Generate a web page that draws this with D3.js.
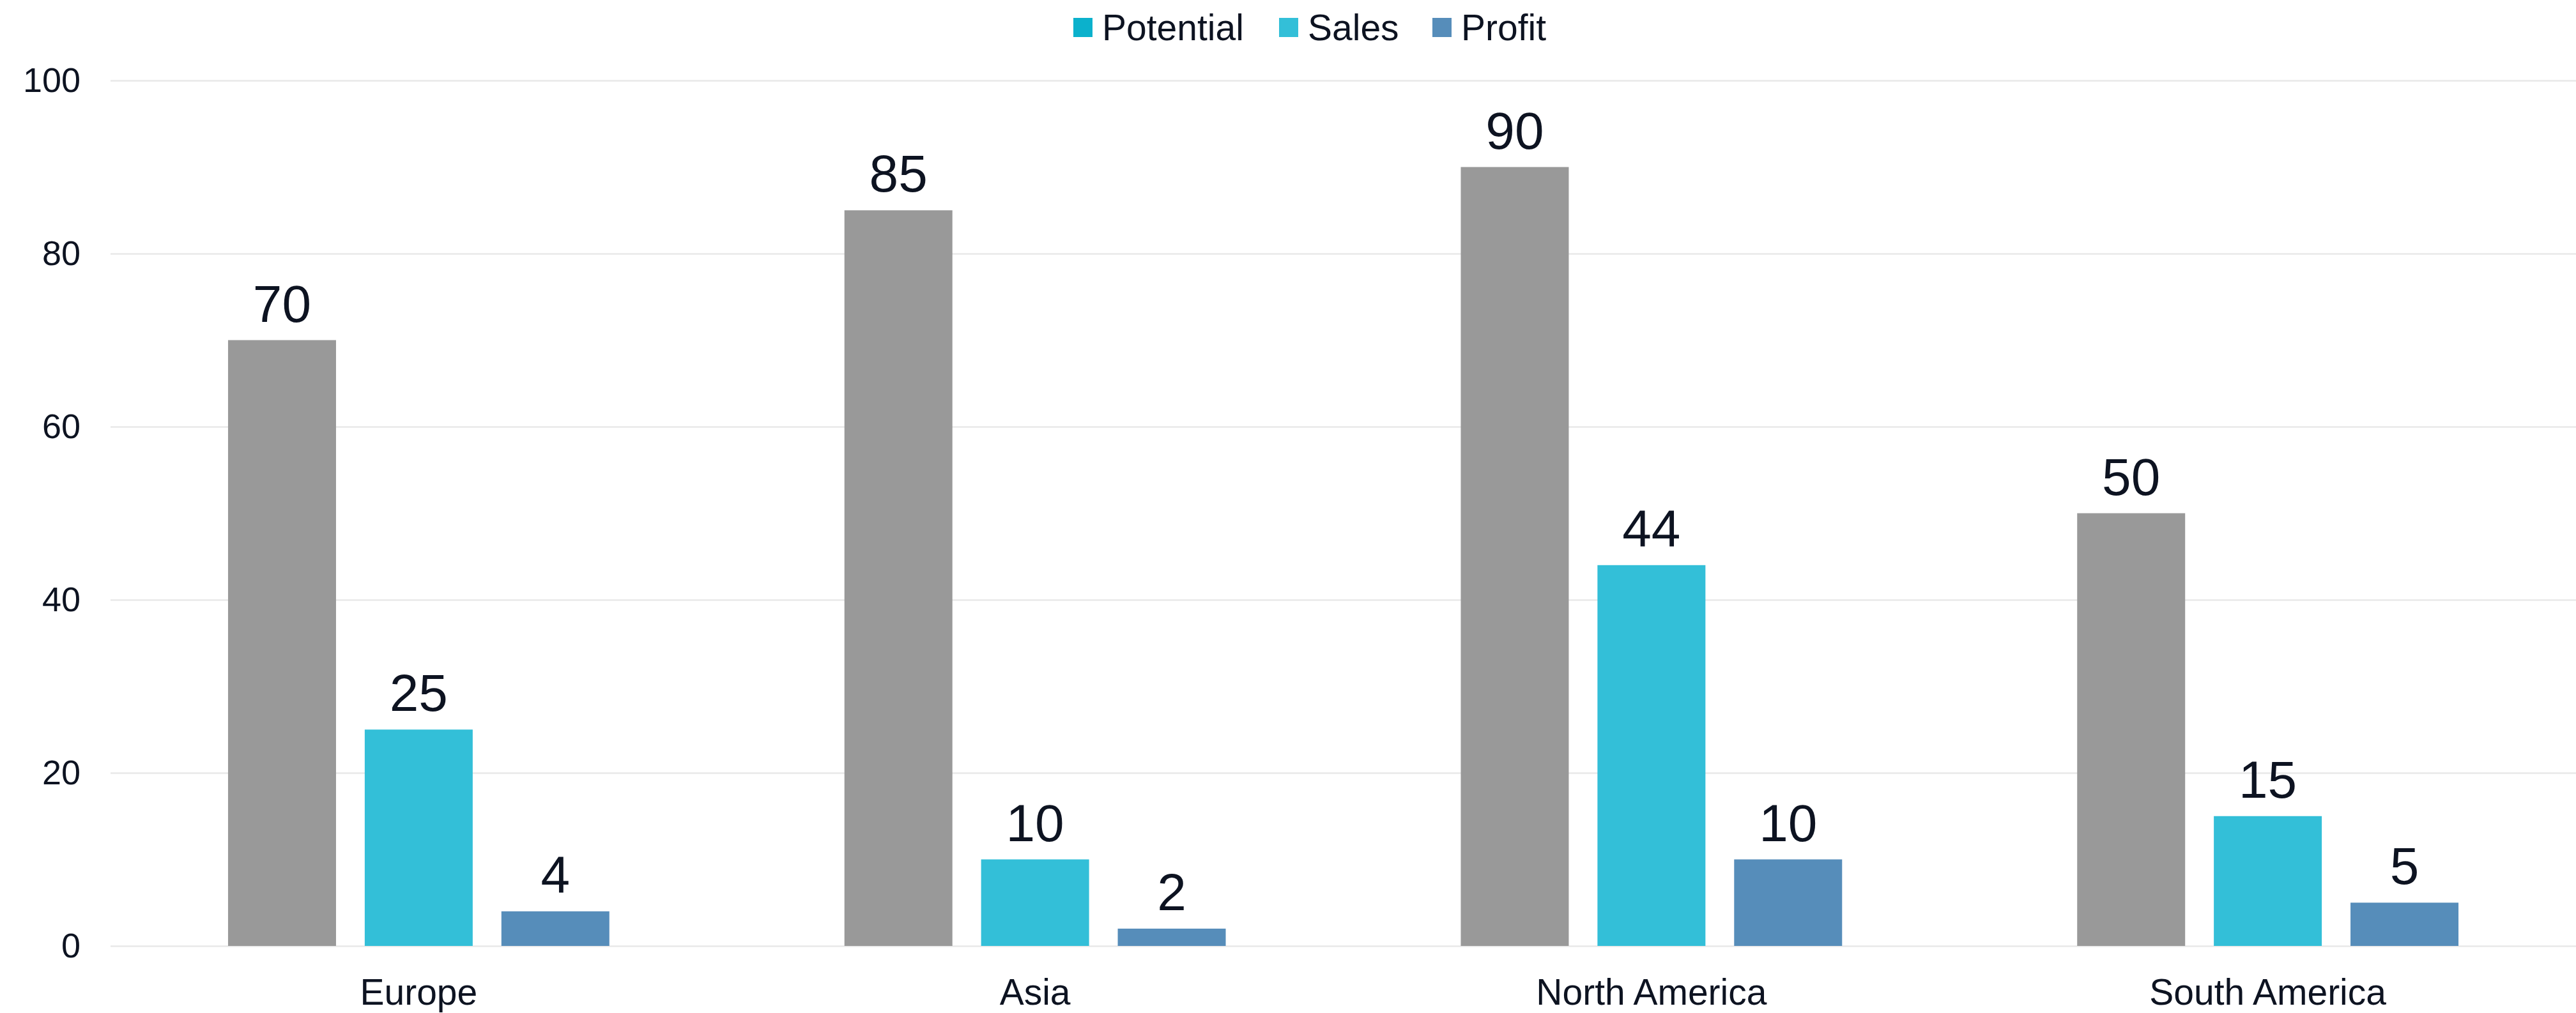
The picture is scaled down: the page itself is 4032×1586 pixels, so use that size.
<!DOCTYPE html>
<html>
<head>
<meta charset="utf-8">
<script src="https://cdn.jsdelivr.net/npm/d3@7"></script>
<style>
  html, body { margin: 0; padding: 0; background: #fff; }
  svg { display: block; font-family: "Liberation Sans", Arial, sans-serif; }
</style>
</head>
<body>
<div id="chart"></div>
<script>
// dados
const regioes = ["Europe", "Asia", "North America", "South America"];
const series = ["Potential", "Sales", "Profit"];
const potential = [70, 85, 90, 50];
const sales = [25, 10, 44, 15];
const profit = [4, 2, 10, 5];
const yTicks = [0, 20, 40, 60, 80, 100];

const largura = 4032;
const altura = 1586;
const margem = { top: 126, right: 0, bottom: 105, left: 173 };

const corTexto = "#0d1321";
const corBarra = { Potential: "#999999", Sales: "#33bfd8", Profit: "#568dba" };
const corLegenda = { Potential: "#0bb1cc", Sales: "#33bfd8", Profit: "#568dba" };

const valores = { Potential: potential, Sales: sales, Profit: profit };
const tabela = regioes.map((r, i) => ({
    regiao: r,
    itens: series.map(s => ({ serie: s, valor: valores[s][i] }))
}));

const svg = d3.select("#chart").append("svg")
    .attr("width", largura)
    .attr("height", altura);

// Escalas
const escalaX = d3.scaleBand()
    .domain(regioes)
    .range([margem.left, largura - margem.right])
    .padding(0);

const escalaSerie = d3.scaleBand()
    .domain(series)
    .range([0, escalaX.bandwidth()])
    .paddingInner(0.21)
    .paddingOuter(0.86);

const escalaY = d3.scaleLinear()
    .domain([0, 100])
    .range([altura - margem.bottom, margem.top]);

// Grade + rótulos do eixo Y
const eixoY = svg.append("g")
    .attr("transform", `translate(${margem.left},0)`)
    .call(d3.axisLeft(escalaY)
        .tickValues(yTicks)
        .tickSize(-(largura - margem.left - margem.right))
        .tickPadding(47));

eixoY.select(".domain").remove();
eixoY.selectAll(".tick line")
    .attr("stroke", "#e9e9e9")
    .attr("stroke-width", 2.5);
eixoY.selectAll(".tick text")
    .attr("fill", corTexto)
    .style("font-size", "54px")
    .style("font-family", "'Liberation Sans', Arial, sans-serif");

// Eixo X (só rótulos)
const eixoX = svg.append("g")
    .attr("transform", `translate(0,${altura - margem.bottom})`)
    .call(d3.axisBottom(escalaX).tickSize(0).tickPadding(52));

eixoX.select(".domain").remove();
eixoX.selectAll(".tick text")
    .attr("fill", corTexto)
    .style("font-size", "57px")
    .style("font-family", "'Liberation Sans', Arial, sans-serif");

// Barras
const grupos = svg.selectAll(".grupo")
    .data(tabela)
    .enter()
    .append("g")
    .attr("class", "grupo")
    .attr("transform", d => `translate(${escalaX(d.regiao)},0)`);

grupos.selectAll("rect")
    .data(d => d.itens)
    .enter()
    .append("rect")
    .attr("x", d => escalaSerie(d.serie))
    .attr("y", d => escalaY(d.valor))
    .attr("width", escalaSerie.bandwidth())
    .attr("height", d => escalaY(0) - escalaY(d.valor))
    .attr("fill", d => corBarra[d.serie]);

// Rótulos de valor
grupos.selectAll("text.valor")
    .data(d => d.itens)
    .enter()
    .append("text")
    .attr("class", "valor")
    .attr("x", d => escalaSerie(d.serie) + escalaSerie.bandwidth() / 2)
    .attr("y", d => escalaY(d.valor) - 29)
    .attr("text-anchor", "middle")
    .attr("fill", corTexto)
    .style("font-size", "82px")
    .text(d => d.valor);

// Legenda
const posLegenda = [1680, 2002, 2242];
const legenda = svg.append("g");
series.forEach((s, i) => {
    legenda.append("rect")
        .attr("x", posLegenda[i])
        .attr("y", 28)
        .attr("width", 30)
        .attr("height", 30)
        .attr("fill", corLegenda[s]);
    legenda.append("text")
        .attr("x", posLegenda[i] + 45)
        .attr("y", 63)
        .attr("fill", corTexto)
        .style("font-size", "57px")
        .text(s);
});
</script>
</body>
</html>
